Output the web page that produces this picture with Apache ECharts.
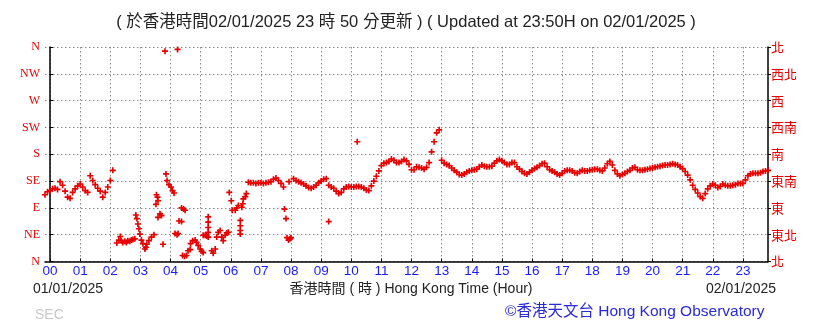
<!DOCTYPE html>
<html>
<head>
<meta charset="utf-8">
<script src="https://cdn.jsdelivr.net/npm/echarts@6/dist/echarts.min.js"></script>
<style>
html,body{margin:0;padding:0;background:#fff;}
#c{width:819px;height:324px;}
</style>
</head>
<body>
<div id="c"></div>
<script>
// ---- data (minutes from 00:00 01/01/2025, wind direction in degrees) ----
const hourLabels = ['00','01','02','03','04','05','06','07','08','09','10','11','12','13','14','15','16','17','18','19','20','21','22','23'];
const dirLabelsEn = ['N','NE','E','SE','S','SW','W','NW','N'];
const dirLabelsZh = ['北','東北','東','東南','南','西南','西','西北','北'];

// continuous segments, one reading every 5 minutes
const segAStart = -10;
const segADirs = [112,117,119,122,123,121,134,128,118,108,106,116,122,127,130,125,119,116,144,136,129,123,118,108,116,125,136,153];
const segCStart = 395;
const segCDirs = [133,132,132,131,132,132,131,132,133,134,138,140,136,131,125];
const segDStart = 485;
const segDDirs = [139,136,134,132,130,127,124,123,125,128,132,135,138,139,128,125,123,118,114,116,
122,125,126,125,125,126,126,125,123,120,119,127,135,143,152,161,165,166,168,172,
170,166,166,168,171,169,163,154,154,159,158,157,155,158,166,184,201,216,221,170,
165,163,161,157,153,150,146,145,147,150,152,153,154,155,159,162,160,159,159,160,
165,169,171,169,166,163,163,166,166,159,155,151,148,147,150,153,156,158,161,164,
165,159,154,152,150,147,145,148,152,153,153,152,149,148,151,153,152,152,153,154,
155,155,153,152,157,164,168,162,153,147,144,146,148,151,153,157,158,154,153,153,
154,155,156,157,158,159,160,161,162,162,163,164,163,162,159,156,151,145,137,128,
121,115,109,106,114,122,127,130,128,124,126,130,128,127,127,128,129,131,131,131,
137,144,147,148,148,148,149,151,152,153];

// scattered readings (irregular times)
const scatterMinutes = [133,137,140,142,145,149,152,155,159,162,165,169,
171,173,175,177,179,182,185,189,191,193,197,202,207,
211,212,214,215,215,219,222,225,
229,231,233,237,241,244,247,
249,253,254,255,257,262,262,266,269,264,268,272,275,279,
280,284,289,292,295,299,302,305,305,309,312,
315,315,315,315,315,322,325,329,332,335,339,342,345,349,352,355,
357,361,363,369,372,375,379,379,379,379,382,384,385,389,391,
467,470,472,475,476,478,480,555,612];
const scatterDirs = [31,36,42,35,32,34,32,35,34,36,37,38,
78,72,63,55,46,36,30,21,24,29,35,41,45,
96,112,108,102,74,80,77,29,
353,147,136,129,125,119,115,
47,45,356,47,68,67,90,88,86,10,9,10,18,20,
30,35,36,32,27,21,17,15,44,44,43,
75,66,57,49,41,18,14,21,41,49,52,41,35,44,48,49,
116,102,86,86,90,94,69,60,52,46,91,97,105,109,114,
88,72,40,36,134,38,40,67,201];

// ---- build series data ----
const points = [];
function addSeg(start, dirs){ dirs.forEach((d,i)=>points.push([start + i*5, d])); }
addSeg(segAStart, segADirs);
addSeg(segCStart, segCDirs);
addSeg(segDStart, segDDirs);
scatterMinutes.forEach((m,i)=>points.push([m, scatterDirs[i]]));

const hourTicks = hourLabels.map((l,i)=>i*60);

const chart = echarts.init(document.getElementById('c'), null, {renderer:'canvas'});
const gridLine = {show:true, lineStyle:{color:'#8a8a8a', type:[1.5,2.5], width:1}};
const plusPath = 'path://M2.9,0H5.1V2.9H8V5.1H5.1V8H2.9V5.1H0V2.9H2.9Z';

chart.setOption({
  animation:false,
  backgroundColor:'#ffffff',
  grid:{left:45, right:51, top:47, bottom:62.5, containLabel:false},
  xAxis:{
    type:'value', min:-10, max:1430,
    axisLine:{show:true, onZero:false, lineStyle:{color:'#000', width:1.5}},
    axisTick:{show:true, inside:true, length:3, customValues:hourTicks, lineStyle:{color:'#000'}},
    axisLabel:{show:true, customValues:hourTicks, margin:3, color:'#1a1aff', fontSize:13.5,
      fontFamily:'Liberation Sans, Arial, sans-serif',
      formatter:function(v){ const i = Math.round(v/60); return (v%60===0 && hourLabels[i]) ? hourLabels[i] : ''; }},
    splitLine:gridLine
  },
  yAxis:[
    {type:'value', min:0, max:360, interval:45, position:'left',
      axisLine:{show:true, lineStyle:{color:'#000', width:1.5}},
      axisTick:{show:true, inside:true, length:3, lineStyle:{color:'#000'}},
      axisLabel:{margin:5, color:'#e60000', fontSize:12, fontFamily:'Liberation Serif, DejaVu Serif, serif',
        formatter:function(v){ return dirLabelsEn[Math.round(v/45)]; }},
      splitLine:gridLine},
    {type:'value', min:0, max:360, interval:45, position:'right',
      axisLine:{show:true, lineStyle:{color:'#000', width:1.5}},
      axisTick:{show:true, inside:false, length:3, lineStyle:{color:'#000'}},
      axisLabel:{margin:3, color:'#e60000', fontSize:13, fontFamily:'Noto Sans CJK TC, sans-serif',
        formatter:function(v){ return dirLabelsZh[Math.round(v/45)]; }},
      splitLine:{show:false}}
  ],
  series:[{
    type:'scatter', yAxisIndex:0, data:points,
    symbol:plusPath, symbolSize:6,
    itemStyle:{color:'#e60000', opacity:1},
    emphasis:{disabled:true}, silent:true, clip:true
  }],
  graphic:[
    {type:'text', style:{x:406, y:22, text:'( 於香港時間02/01/2025 23 時 50 分更新 ) ( Updated at 23:50H on 02/01/2025 )',
      fill:'#222', font:'16.5px "Liberation Sans", "Noto Sans CJK TC", sans-serif', textAlign:'center', textVerticalAlign:'middle'}},
    {type:'text', style:{x:33, y:289, text:'01/01/2025', fill:'#222',
      font:'14px "Liberation Sans", sans-serif', textAlign:'left', textVerticalAlign:'middle'}},
    {type:'text', style:{x:411, y:289, text:'香港時間 ( 時 ) Hong Kong Time (Hour)', fill:'#222',
      font:'14px "Liberation Sans", "Noto Sans CJK TC", sans-serif', textAlign:'center', textVerticalAlign:'middle'}},
    {type:'text', style:{x:776, y:289, text:'02/01/2025', fill:'#222',
      font:'14px "Liberation Sans", sans-serif', textAlign:'right', textVerticalAlign:'middle'}},
    {type:'text', style:{x:35, y:315, text:'SEC', fill:'#c8c8c8',
      font:'14px "Liberation Sans", sans-serif', textAlign:'left', textVerticalAlign:'middle'}},
    {type:'text', style:{x:505, y:312, text:'©香港天文台 Hong Kong Observatory', fill:'#2a2ad8',
      font:'15.5px "Liberation Sans", "Noto Sans CJK TC", sans-serif', textAlign:'left', textVerticalAlign:'middle'}}
  ]
});
</script>
</body>
</html>
